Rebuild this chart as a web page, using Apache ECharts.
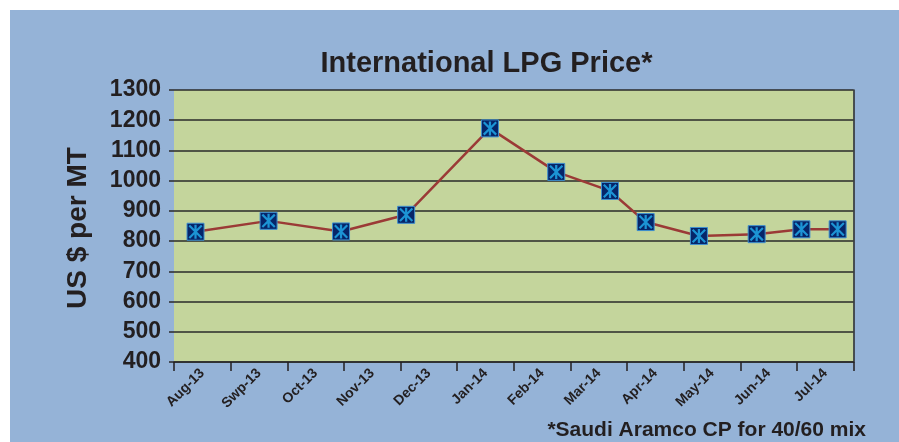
<!DOCTYPE html>
<html>
<head>
<meta charset="utf-8">
<script src="https://cdn.jsdelivr.net/npm/echarts@6/dist/echarts.min.js"></script>
<style>
html,body{margin:0;padding:0;background:#ffffff;width:899px;height:442px;overflow:hidden;}
#chart{position:absolute;left:10px;top:10px;width:889px;height:432px;}
</style>
</head>
<body>
<div id="chart"></div>
<script>
// ---- data ----
const categories = ['Aug-13','Swp-13','Oct-13','Nov-13','Dec-13','Jan-14','Feb-14','Mar-14','Apr-14','May-14','Jun-14','Jul-14'];
// position of each observation along the month axis (in months from start of Aug-13)
const pointMonthOffsets = [0.38, 1.67, 2.95, 4.10, 5.58, 6.75, 7.70, 8.33, 9.27, 10.29, 11.08, 11.72];
const prices = [831, 867, 832, 887, 1173, 1029, 966, 863, 817, 823, 839, 839];
const yTicks = { min: 400, max: 1300, interval: 100 };
const titleText = 'International LPG Price*';
const yAxisTitle = 'US $ per MT';
const footnote = '*Saudi Aramco CP for 40/60 mix';

const seriesData = pointMonthOffsets.map((m, i) => [m, prices[i]]);
const FONT = '"Liberation Sans", Arial, Helvetica, sans-serif';
const TXT = '#231f20';
const asterisk = 'path://M42 0 L58 0 L58 100 L42 100 Z M0 11 L11 0 L100 89 L89 100 Z M89 0 L100 11 L11 100 L0 89 Z';

const chart = echarts.init(document.getElementById('chart'), null, { renderer: 'canvas' });
chart.setOption({
  animation: false,
  backgroundColor: '#95b3d7',
  graphic: [
    { type: 'text', x: 476.5, y: 53.5, style: { text: titleText, fontFamily: FONT, fontWeight: 'bold', fontSize: 29, fill: TXT, textAlign: 'center', textVerticalAlign: 'middle' } },
    { type: 'text', x: 68, y: 218, rotation: Math.PI / 2, style: { text: yAxisTitle, fontFamily: FONT, fontWeight: 'bold', fontSize: 28, fill: TXT, textAlign: 'center', textVerticalAlign: 'middle' } },
    { type: 'text', x: 856, y: 420.5, style: { text: footnote, fontFamily: FONT, fontWeight: 'bold', fontSize: 21, fill: TXT, textAlign: 'right', textVerticalAlign: 'middle' } }
  ],
  grid: { left: 164, top: 80, right: 45.5, bottom: 80, show: true, backgroundColor: '#c4d59c', borderWidth: 0 },
  xAxis: [
    {
      type: 'category', data: categories, boundaryGap: true,
      axisLine: { show: true, lineStyle: { color: '#2a2a2a', width: 1.5 } },
      axisTick: { show: true, length: 9, lineStyle: { color: TXT, width: 1.5 } },
      axisLabel: { rotate: 45, margin: 9, color: TXT, fontFamily: FONT, fontWeight: 'bold', fontSize: 14, interval: 0 },
      splitLine: { show: false }
    },
    { type: 'value', min: 0, max: 12, show: false }
  ],
  yAxis: [
    {
      type: 'value', min: yTicks.min, max: yTicks.max, interval: yTicks.interval, position: 'left',
      axisLine: { show: false },
      axisTick: { show: true, length: 5, lineStyle: { color: '#2a2a2a', width: 1.5 } },
      axisLabel: { margin: 13, color: TXT, fontFamily: FONT, fontWeight: 'bold', fontSize: 23, padding: [4, 0, 0, 0], formatter: v => String(v) },
      splitLine: { show: true, lineStyle: { color: '#2a2a2a', width: 1.5 } }
    },
    {
      type: 'value', min: yTicks.min, max: yTicks.max, interval: yTicks.interval, position: 'right',
      axisLine: { show: true, lineStyle: { color: '#2a2a2a', width: 1.5 } },
      axisTick: { show: false }, axisLabel: { show: false }, splitLine: { show: false }
    }
  ],
  series: [
    {
      type: 'line', xAxisIndex: 1, yAxisIndex: 0, data: seriesData,
      lineStyle: { color: '#9b3a36', width: 2.5 },
      symbol: 'rect', symbolSize: 17, showSymbol: true,
      itemStyle: { color: '#062569', borderColor: '#3d8fcf', borderWidth: 1 },
      z: 3
    },
    {
      type: 'scatter', xAxisIndex: 1, yAxisIndex: 0, data: seriesData,
      symbol: asterisk, symbolSize: 14,
      itemStyle: { color: '#22b0f0' },
      z: 4
    }
  ]
});
</script>
</body>
</html>
